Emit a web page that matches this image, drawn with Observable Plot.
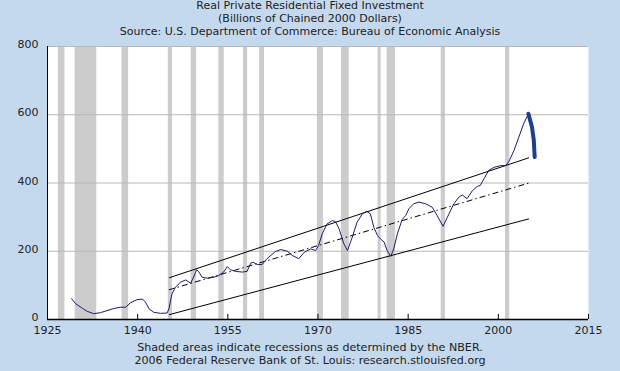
<!DOCTYPE html>
<html>
<head>
<meta charset="utf-8">
<script src="https://cdn.jsdelivr.net/npm/d3@7"></script>
<script src="https://cdn.jsdelivr.net/npm/@observablehq/plot@0.6"></script>
<style>
  html, body { margin: 0; padding: 0; background: #c5d9ee; width: 620px; height: 371px; overflow: hidden; }
  .t { font-family: "DejaVu Sans", sans-serif; font-size: 11px; color: #222; text-align: center; line-height: 13px; }
  #title { margin-top: -1px; height: 39px; }
  #caption { padding-top: 2px; font-size: 11.1px; }
  #chart svg { display: block; }
</style>
</head>
<body>
<div id="title" class="t">Real Private Residential Fixed Investment<br>(Billions of Chained 2000 Dollars)<br>Source: U.S. Department of Commerce: Bureau of Economic Analysis</div>
<div id="chart"></div>
<div id="caption" class="t">Shaded areas indicate recessions as determined by the NBER.<br>2006 Federal Reserve Bank of St. Louis: research.stlouisfed.org</div>
<script>
// Series (decimal year, billions of chained 2000 dollars)
const years = [1929.0,1929.7,1930.8,1931.6,1932.7,1933.8,1934.9,1936.0,1937.1,1938.0,1938.8,1939.9,1940.8,1941.3,1941.9,1942.7,1943.8,1944.9,1945.2,1945.7,1946.3,1947.1,1948.0,1948.8,1949.3,1949.8,1950.2,1950.7,1951.6,1952.7,1953.5,1954.3,1954.9,1955.4,1956.3,1957.4,1958.2,1958.8,1959.2,1959.9,1960.7,1961.5,1962.9,1963.8,1964.9,1965.7,1966.8,1967.7,1968.8,1969.6,1970.1,1970.7,1971.5,1972.4,1972.9,1973.5,1974.3,1974.9,1975.7,1976.5,1977.4,1978.1,1978.7,1979.3,1979.9,1980.4,1981.0,1981.5,1982.1,1982.6,1983.2,1984.0,1984.6,1985.1,1985.9,1986.8,1987.9,1989.0,1989.8,1990.8,1991.8,1992.6,1993.4,1994.0,1994.8,1995.7,1996.5,1997.0,1997.6,1998.4,1999.3,2000.4,2001.2,2001.7,2002.6,2003.4,2004.2,2005.0];
const values = [61,46,33,24,17,20,26,32,36,36,49,58,60,51,31,21,18,19,31,75,95,109,116,106,124,146,139,124,121,124,129,139,155,146,141,139,141,165,168,161,161,178,199,205,200,188,178,197,207,202,217,251,280,290,287,266,222,202,241,285,310,317,310,270,246,236,227,202,185,207,251,293,305,324,339,344,339,329,305,273,310,339,358,365,354,378,390,393,412,437,446,451,451,461,495,534,573,603];
// Most recent observations (drawn heavy)
const recentYears = [2005.0,2005.3,2005.6,2005.9,2006.05];
const recentValues = [603,583,564,525,476];
// Trend channel lines
const trendNames = ["upper","middle","lower"];
const trendStartYear = [1945.2,1945.2,1945.2];
const trendEndYear = [2005.1,2005.1,2005.1];
const trendStart = [122,87,14];
const trendEnd = [474,400,295];
// NBER recessions
const recStart = [1926.8,1929.6,1937.4,1945.1,1948.9,1953.5,1957.6,1960.3,1969.9,1973.9,1980.0,1981.5,1990.5,2001.2];
const recEnd   = [1927.9,1933.2,1938.5,1945.8,1949.8,1954.4,1958.3,1961.1,1970.9,1975.2,1980.5,1982.9,1991.2,2001.9];
// Axis ticks
const xTicks = [1925,1940,1955,1970,1985,2000,2015];
const yTicks = [0,200,400,600,800];

const series = years.map((y,i) => ({x: y, v: values[i]}));
const recent = recentYears.map((y,i) => ({x: y, v: recentValues[i]}));
const trends = trendNames.map((n,i) => ({name: n, x1: trendStartYear[i], x2: trendEndYear[i], y1: trendStart[i], y2: trendEnd[i]}));
const recessions = recStart.map((s,i) => ({s, e: recEnd[i]}));

const chart = Plot.plot({
  width: 620, height: 301,
  marginLeft: 47, marginRight: 32, marginTop: 8, marginBottom: 20,
  style: {background: "transparent", fontFamily: "DejaVu Sans, sans-serif", fontSize: "11px", color: "#222"},
  x: {domain: [1925, 2015], label: null},
  y: {domain: [0, 800], label: null},
  marks: [
    Plot.frame({fill: "white", stroke: null}),
    Plot.rect(recessions, {x1: "s", x2: "e", fill: "#cccccc"}),
    Plot.ruleY(yTicks.filter(d => d > 0), {stroke: "#b8b8b8", strokeWidth: 1}),
    Plot.link(trends.filter(d => d.name !== "middle"), {x1: "x1", y1: "y1", x2: "x2", y2: "y2", stroke: "black", strokeWidth: 1}),
    Plot.link(trends.filter(d => d.name === "middle"), {x1: "x1", y1: "y1", x2: "x2", y2: "y2", stroke: "black", strokeWidth: 1, strokeDasharray: "6,3,1.5,3"}),
    Plot.line(series, {x: "x", y: "v", stroke: "#1c1c6e", strokeWidth: 1}),
    Plot.line(recent, {x: "x", y: "v", stroke: "#1f3f8c", strokeWidth: 4, strokeLinecap: "round"}),
    Plot.ruleX([1925], {stroke: "black"}),
    Plot.ruleY([0], {stroke: "black", strokeWidth: 1.5}),
    Plot.ruleX(xTicks.filter(d => d > 1925), {x: d => d, y1: 0, y2: 15, stroke: "black"}),
    Plot.axisX({ticks: xTicks, tickFormat: "d", tickSize: 0, tickPadding: 7}),
    Plot.axisY({ticks: yTicks, tickFormat: "d", tickSize: 0, tickPadding: 9, dy: -2})
  ]
});
document.getElementById("chart").appendChild(chart);
</script>
</body>
</html>
